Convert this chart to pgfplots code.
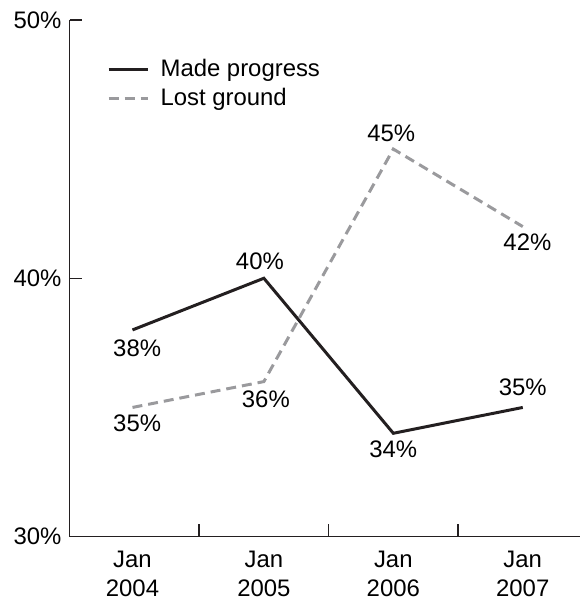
\documentclass[border=0pt]{standalone}
\usepackage{pgfplots}
\pgfplotsset{compat=1.18}
\usepackage{fontspec}
\setmainfont{Liberation Sans}
\definecolor{lineblack}{HTML}{231F20}
\definecolor{linegray}{HTML}{9A9A9D}

\begin{document}
\fontsize{18}{21.75}\selectfont
\begin{tikzpicture}
\begin{axis}[
    scale only axis,
    width=384.75pt, height=389.25pt,
    xmin=0, xmax=3.946,
    ymin=30, ymax=50,
    clip=false,
    axis lines*=left,
    axis line style={lineblack, line width=1.1pt},
    tick align=inside,
    major tick length=9.5pt,
    tick style={lineblack, line width=1.1pt},
    xtick={1,2,3}, xticklabels={},
    extra x ticks={0.485,1.5,2.5,3.5},
    extra x tick labels={{Jan\\2004},{Jan\\2005},{Jan\\2006},{Jan\\2007}},
    extra x tick style={major tick length=0pt},
    xticklabel style={yshift=-5pt},
    ytick={30,40,50}, yticklabels={30\%,40\%,50\%},
    tick label style={font=\fontsize{18}{21.75}\selectfont, align=center},
    legend style={at={(0.065,0.935)}, anchor=north west, draw=none, fill=none,
        font=\fontsize{18}{21.75}\selectfont, row sep=2pt, cells={anchor=west}},
    legend image code/.code={\draw[#1] (0pt,0pt) -- (30pt,0pt); \path (36pt,0pt);},
    point meta=y,
    nodes near coords={\pgfmathprintnumber[assume math mode=true]{\pgfplotspointmeta}\%},
    visualization depends on={\thisrow{dy} \as \dy},
    visualization depends on={\thisrow{dx} \as \dx},
    every node near coord/.append style={black, anchor=center,
        yshift=\dy pt, xshift=\dx pt, font=\fontsize{18}{21.75}\selectfont},
]
\addplot[lineblack, line width=2.25pt] table {
x     y  dy   dx
0.485 38 -14  3.5
1.5   40  13  -3
2.5   34 -12  0
3.5   35  15  0
};
\addlegendentry{Made progress}
\addplot[linegray, line width=2.25pt, dash pattern=on 7.5pt off 4.5pt] table {
x     y  dy   dx
0.485 35 -12  3.5
1.5   36 -13  1.5
2.5   45  12  -1.5
3.5   42 -12  3.5
};
\addlegendentry{Lost ground}
\coordinate (bl) at (axis description cs:-0.1365,-0.127);
\coordinate (tr) at (axis description cs:1,1.0385);
\end{axis}
\path (bl) rectangle (tr);
\end{tikzpicture}
\end{document}
